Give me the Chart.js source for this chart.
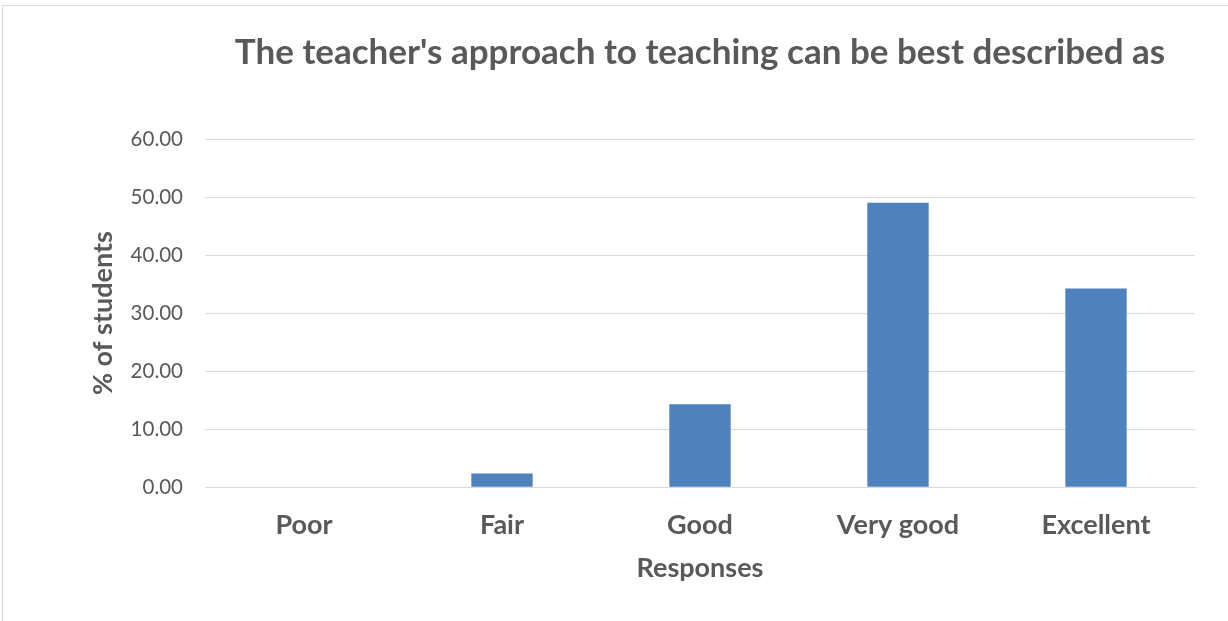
<!DOCTYPE html>
<html>
<head>
<meta charset="utf-8">
<script src="https://cdn.jsdelivr.net/npm/chart.js@4.4.1/dist/chart.umd.min.js"></script>
<style>
  html, body { margin: 0; padding: 0; background: #fff; }
  #wrap { position: relative; width: 1228px; height: 621px; overflow: hidden; }
  #frame { position: absolute; left: 2px; top: 5px; width: 1300px; height: 700px; border: 1px solid #d9d9d9; }
  #chart { position: absolute; left: 0; top: 0; }
</style>
</head>
<body>
<div id="wrap">
  <div id="frame"></div>
  <canvas id="chart" width="1228" height="621"></canvas>
</div>
<script>
const categories = ["Poor", "Fair", "Good", "Very good", "Excellent"];
const percentStudents = [0, 2.38, 14.29, 49.0, 34.25];
const yTicks = [0, 10, 20, 30, 40, 50, 60];

const textGrey = "#595959";
const fontFamily = "Lato, 'Open Sans', sans-serif";

document.addEventListener("DOMContentLoaded", function () {
  const ctx = document.getElementById("chart").getContext("2d");
  new Chart(ctx, {
    type: "bar",
    data: {
      labels: categories,
      datasets: [
        {
          label: "% of students",
          data: percentStudents,
          backgroundColor: "#4f81bd",
          barPercentage: 0.62,
          categoryPercentage: 0.5,
        },
      ],
    },
    options: {
      responsive: false,
      animation: false,
      layout: { padding: { top: 28, right: 33, bottom: 26, left: 0 } },
      plugins: {
        legend: { display: false },
        tooltip: { enabled: false },
        title: {
          display: true,
          fullSize: false,
          text: "The teacher's approach to teaching can be best described as",
          color: textGrey,
          font: { family: fontFamily, size: 35, weight: "bold" },
          padding: { top: 4, bottom: 65 },
        },
      },
      scales: {
        x: {
          grid: { display: false },
          border: { color: "#d9d9d9" },
          ticks: {
            color: textGrey,
            padding: 14,
            font: { family: fontFamily, size: 27, weight: "bold" },
          },
          title: {
            display: true,
            text: "Responses",
            color: textGrey,
            font: { family: fontFamily, size: 27, weight: "bold" },
            padding: { top: -4, bottom: 11 },
          },
        },
        y: {
          min: 0,
          max: 60,
          afterBuildTicks: function (axis) {
            axis.ticks = yTicks.map((v) => ({ value: v }));
          },
          afterFit: function (axis) {
            axis.width = 205;
          },
          grid: { color: "#d9d9d9", drawTicks: false },
          border: { display: false },
          ticks: {
            color: textGrey,
            padding: 22,
            font: { family: fontFamily, size: 20.5 },
            callback: (v) => Number(v).toFixed(2),
          },
          title: {
            display: true,
            text: "% of students",
            color: textGrey,
            font: { family: fontFamily, size: 27, weight: "bold" },
            padding: { top: 87, bottom: 0 },
          },
        },
      },
    },
  });
});
</script>
</body>
</html>
